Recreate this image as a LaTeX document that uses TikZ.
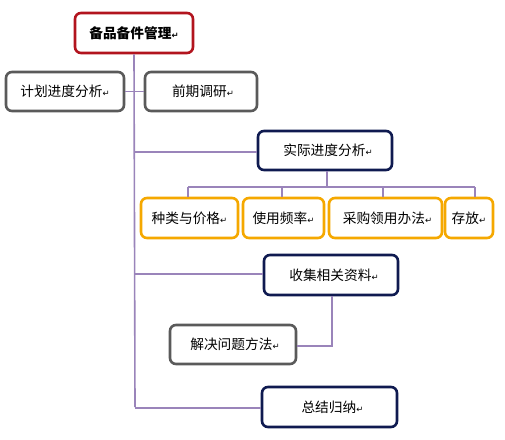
\documentclass[tikz,border=0pt]{standalone}
\usepackage{fontspec}
\setmainfont{Noto Sans CJK SC}
\newfontfamily\symfont{DejaVu Sans}
\newcommand{\pmark}{{\symfont\fontsize{8.5}{8.5}\selectfont ↵}}
\definecolor{redb}{HTML}{B2141E}
\definecolor{grayb}{HTML}{5A5A5A}
\definecolor{navyb}{HTML}{0F1A50}
\definecolor{orangeb}{HTML}{F5A800}
\definecolor{linec}{HTML}{9A84BA}
\tikzset{
  box/.style={draw, line width=2.6pt, rounded corners=6pt, fill=white, inner sep=0pt,
    font=\fontsize{13.7}{15}\selectfont},
  redbox/.style={box, draw=redb},
  graybox/.style={box, draw=grayb},
  navybox/.style={box, draw=navyb},
  orangebox/.style={box, draw=orangeb},
  conn/.style={draw=linec, line width=1.6pt}
}
\begin{document}
\begin{tikzpicture}[x=1pt,y=-1pt]
\useasboundingbox (0,0) rectangle (505,439);
\coordinate (bus) at (135,407);
\coordinate (b2) at (135,152);
\coordinate (b3) at (135,274);
\coordinate (b4) at (135,408);
\coordinate (sb) at (327,187);
\coordinate (sbl) at (188,187);
\coordinate (sb2) at (282,187);
\coordinate (sb3) at (383,187);
\coordinate (sbr) at (475,187);
\coordinate (k) at (332,346);

\node[redbox, minimum width=118pt, minimum height=40pt, font=\fontsize{13.7}{15}\selectfont\bfseries] (top) at (134,33) {备品备件管理\pmark};
\node[graybox, minimum width=118pt, minimum height=39pt] (jh) at (65,91.5) {计划进度分析\pmark};
\node[graybox, minimum width=112pt, minimum height=39pt] (qq) at (201,91.5) {\hspace*{4pt}前期调研\pmark};
\node[navybox, minimum width=134pt, minimum height=39pt] (sj) at (325,150.5) {\hspace*{6pt}实际进度分析\pmark};
\node[orangebox, minimum width=97pt, minimum height=40pt] (o1) at (189.5,218) {种类与价格\pmark};
\node[orangebox, minimum width=81pt, minimum height=40pt] (o2) at (283.5,218) {使用频率\pmark};
\node[orangebox, minimum width=113pt, minimum height=40pt] (o3) at (385.5,218) {\hspace*{4pt}采购领用办法\pmark};
\node[orangebox, minimum width=48pt, minimum height=40pt] (o4) at (469,218) {存放\pmark};
\node[navybox, minimum width=134pt, minimum height=40pt] (sc) at (331,275) {\hspace*{6pt}收集相关资料\pmark};
\node[graybox, minimum width=126pt, minimum height=39pt] (jj) at (233,344.5) {\hspace*{4pt}解决问题方法\pmark};
\node[navybox, minimum width=135pt, minimum height=40pt] (zj) at (329.5,407) {\hspace*{6pt}总结归纳\pmark};

\draw[conn] (top.south) -- (bus);
\draw[conn] (jh.east) -- (qq.west);
\draw[conn] (b2) -- (sj.west |- b2);
\draw[conn] (b3) -- (sc.west |- b3);
\draw[conn] (b4) -- (zj.west |- b4);
\draw[conn] (sj.south -| sb) -- (sb);
\draw[conn] (sbl) -- (sbr);
\draw[conn] (sbl) -- (o1.north -| sbl);
\draw[conn] (sb2) -- (o2.north -| sb2);
\draw[conn] (sb3) -- (o3.north -| sb3);
\draw[conn] (sbr) -- (o4.north -| sbr);
\draw[conn] (sc.south -| k) -- (k) -- (jj.east |- k);
\end{tikzpicture}
\end{document}
